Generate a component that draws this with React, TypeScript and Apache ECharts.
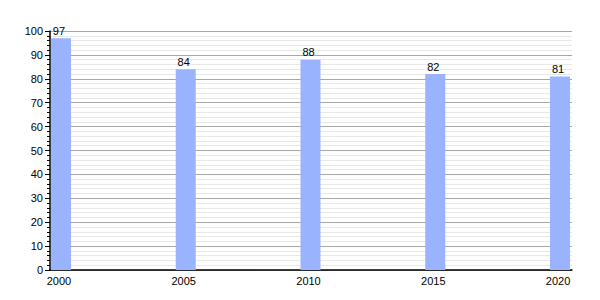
import React, { useEffect, useRef } from "react";
import * as echarts from "echarts";

const years = [2000, 2005, 2010, 2015, 2020];
const values = [97, 84, 88, 82, 81];
const yearLabels = [2000, 2005, 2010, 2015, 2020];

export default function App() {
  const ref = useRef<HTMLDivElement>(null);
  useEffect(() => {
    if (!ref.current) return;
    const chart = echarts.init(ref.current, null, { renderer: "svg" });
    chart.setOption({
      animation: false,
      textStyle: { fontFamily: "Liberation Sans, Arial, sans-serif" },
      grid: { left: 42, right: 20, top: 23, bottom: 22 },
      xAxis: {
        type: "value",
        min: 1999.56,
        max: 2020.48,
        axisLine: { show: true, onZero: false, lineStyle: { color: "#000", width: 1.5 } },
        axisTick: { show: false },
        splitLine: { show: false },
        axisLabel: {
          customValues: yearLabels,
          color: "#000",
          fontSize: 11,
          margin: 5,
          padding: [0, 4, 0, 0],
          formatter: (v: number) => String(v),
        },
      },
      yAxis: {
        type: "value",
        min: 0,
        max: 100,
        interval: 10,
        axisLine: { show: true, lineStyle: { color: "#000", width: 1.5 } },
        axisTick: { show: true, length: 5, lineStyle: { color: "#000" } },
        minorTick: { show: true, splitNumber: 5, length: 3, lineStyle: { color: "#000" } },
        splitLine: { show: true, lineStyle: { color: "#a8a8a8", width: 1 } },
        minorSplitLine: { show: true, lineStyle: { color: "#e8e8e8", width: 1 } },
        axisLabel: { color: "#000", fontSize: 11, margin: 7 },
      },
      series: [
        {
          type: "bar",
          data: years.map((y, i) => [y, values[i]]),
          barWidth: 20,
          itemStyle: { color: "#99b3ff" },
          label: { show: true, position: "top", distance: 2, offset: [-2, 0], color: "#000", fontSize: 11 },
        },
      ],
    });
    return () => chart.dispose();
  }, []);
  return <div ref={ref} style={{ width: 584, height: 284 }} />;
}
